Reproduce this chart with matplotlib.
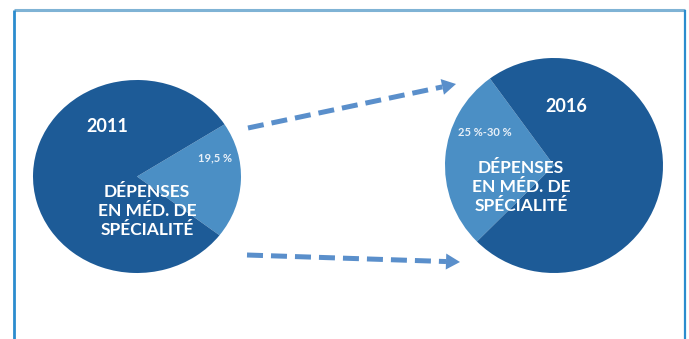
import matplotlib
matplotlib.use("Agg")
import matplotlib.pyplot as plt
import numpy as np

# ---- data ----
years = ["2011", "2016"]
shares = [19.5, 27.5]            # share of specialty-drug spending (%)
share_labels = ["19,5 %", "25 %-30 %"]
center_label = "DÉPENSES\nEN MÉD. DE\nSPÉCIALITÉ"

DARK = "#1d5b97"
LIGHT = "#4b8fc5"
ARROW = "#5a8fcb"

W, H = 689, 339
fig = plt.figure(figsize=(W / 100, H / 100), dpi=100)
fig.patch.set_facecolor("white")

def px_axes(x0, y0, x1, y1, z=1):
    return fig.add_axes([x0 / W, 1 - y1 / H, (x1 - x0) / W, (y1 - y0) / H], zorder=z)

# pie boxes (pixel extents) and start angles
boxes = [(33, 80, 241, 273), (445, 58, 663, 273)]
starts = [-37.5, 126.0]

for box, share, st in zip(boxes, shares, starts):
    ax = px_axes(*box)
    ax.pie([share, 100 - share], colors=[LIGHT, DARK], startangle=st,
           counterclock=True, radius=1.0, wedgeprops=dict(linewidth=0))
    ax.set_aspect("auto")
    ax.set_xlim(-1, 1)
    ax.set_ylim(-1, 1)
    ax.axis("off")

# overlay axes in pixel coordinates
ov = fig.add_axes([0, 0, 1, 1], zorder=5)
ov.set_xlim(0, W)
ov.set_ylim(H, 0)
ov.axis("off")
ov.patch.set_alpha(0)

# frame
ov.plot([14, 685], [10, 10], color="#7fb3d5", lw=2.2, solid_capstyle="butt")
ov.plot([14, 14], [10, H], color="#2b8cce", lw=2.0, solid_capstyle="butt")
ov.plot([685, 685], [10, H], color="#2b8cce", lw=1.6, solid_capstyle="butt")

font = "Lato"
# texts
ov.text(107, 126, years[0], color="white", fontsize=13, fontweight="bold",
        family=font, ha="center", va="center")
ov.text(566, 106, years[1], color="white", fontsize=13, fontweight="bold",
        family=font, ha="center", va="center")
ov.text(215, 158, share_labels[0], color="#e8f0f8", fontsize=8, fontweight="bold",
        family=font, ha="center", va="center")
ov.text(485, 133, share_labels[1], color="#e8f0f8", fontsize=8, fontweight="bold",
        family=font, ha="center", va="center")
ov.text(147, 211, center_label, color="white", fontsize=12.5, fontweight="bold",
        family=font, ha="center", va="center", linespacing=1.25)
ov.text(521, 187, center_label, color="white", fontsize=12.5, fontweight="bold",
        family=font, ha="center", va="center", linespacing=1.25)

# dashed arrows
def dashed_arrow(p0, p1):
    p0 = np.array(p0, float); p1 = np.array(p1, float)
    d = p1 - p0
    L = np.hypot(*d)
    u = d / L
    hl, hw = 14, 8
    base = p1 - u * hl
    ov.plot([p0[0], base[0]], [p0[1], base[1]], color=ARROW, lw=3.6,
            dashes=(3.2, 1.6), solid_capstyle="butt", dash_capstyle="butt")
    n = np.array([-u[1], u[0]])
    head = np.array([p1, base + n * hw, base - n * hw])
    ov.add_patch(plt.Polygon(head, closed=True, color=ARROW, lw=0))

dashed_arrow((248, 128), (456, 84))
dashed_arrow((247, 255), (460, 262))

fig.savefig("out.png", dpi=100, facecolor="white")
